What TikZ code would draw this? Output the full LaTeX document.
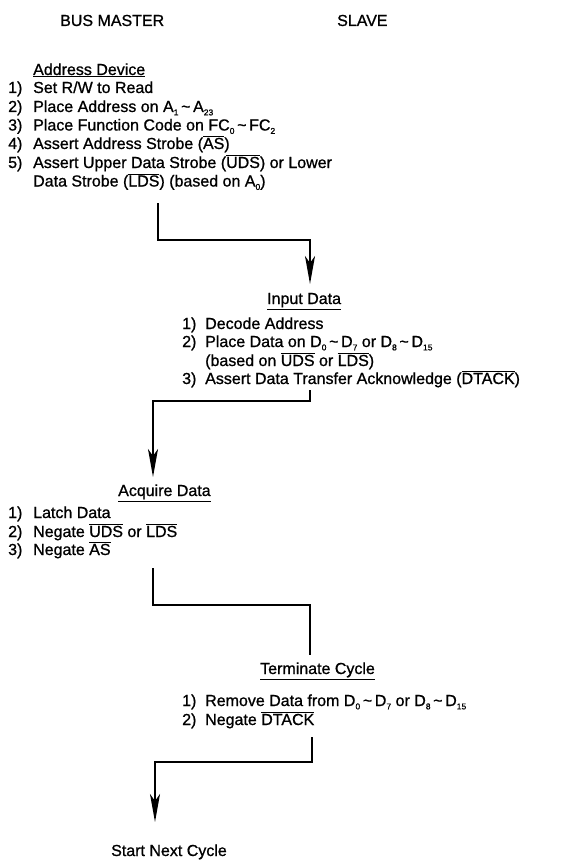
\documentclass[tikz,border=0pt]{standalone}
\usepackage{fontspec}
\setmainfont{Liberation Sans}[BoldFont=Liberation Sans, BoldFeatures={FakeBold=0.9}]
\usetikzlibrary{arrows.meta}
\newcommand{\sbs}[1]{\raisebox{-0.4ex}{\fontsize{8.5}{8.5}\selectfont #1}}
\newcommand{\ovl}[1]{$\overline{\mbox{#1}}$}
\newcommand{\tld}{\,\textasciitilde\,}
\begin{document}
\begin{tikzpicture}[x=1pt,y=-1pt,
  txt/.style={inner sep=0pt, anchor=base west, font=\fontsize{16}{16}\selectfont\bfseries},
  flow/.style={line width=2pt, line join=miter},
  head/.style={-{Stealth[length=28pt,width=10pt,inset=7pt]}}]
\fill[white] (0,0) rectangle (567,861);
\useasboundingbox (0,0) rectangle (567,861);
% headers
\node[txt] (hm) at (60,26) {BUS MASTER};
\node[txt] (hs) at (337,26) {SLAVE};
% master block 1
\node[txt] (ad) at (33,75) {\underline{Address Device}};
\node[txt] (m1n) at (8,93) {1)};
\node[txt] (m1) at (33,93) {Set R/W to Read};
\node[txt] (m2n) at (8,112) {2)};
\node[txt] (m2) at (33,112) {Place Address on A\sbs{1}\tld A\sbs{23}};
\node[txt] (m3n) at (8,130.5) {3)};
\node[txt] (m3) at (33,130.5) {Place Function Code on FC\sbs{0}\tld FC\sbs{2}};
\node[txt] (m4n) at (8,149) {4)};
\node[txt] (m4) at (33,149) {Assert Address Strobe (\ovl{AS})};
\node[txt] (m5n) at (8,168) {5)};
\node[txt] (m5) at (33,168) {Assert Upper Data Strobe (\ovl{UDS}) or Lower};
\node[txt] (m5b) at (33,186.5) {Data Strobe (\ovl{LDS}) (based on A\sbs{0})};
% slave block 1
\node[txt] (id) at (267,304) {\underline{Input Data}};
\node[txt] (s1n) at (182,329) {1)};
\node[txt] (s1) at (205,329) {Decode Address};
\node[txt] (s2n) at (182,347) {2)};
\node[txt] (s2) at (205,347) {Place Data on D\sbs{0}\tld D\sbs{7} or D\sbs{8}\tld D\sbs{15}};
\node[txt] (s2b) at (205,366) {(based on \ovl{UDS} or \ovl{LDS})};
\node[txt] (s3n) at (182,384) {3)};
\node[txt] (s3) at (205,384) {Assert Data Transfer Acknowledge (\ovl{DTACK})};
% master block 2
\node[txt] (aq) at (118,496) {\underline{Acquire Data}};
\node[txt] (a1n) at (8,518) {1)};
\node[txt] (a1) at (33,518) {Latch Data};
\node[txt] (a2n) at (8,537) {2)};
\node[txt] (a2) at (33,537) {Negate \ovl{UDS} or \ovl{LDS}};
\node[txt] (a3n) at (8,555) {3)};
\node[txt] (a3) at (33,555) {Negate \ovl{AS}};
% slave block 2
\node[txt] (tc) at (260,674) {\underline{Terminate Cycle}};
\node[txt] (t1n) at (182,706) {1)};
\node[txt] (t1) at (205,706) {Remove Data from D\sbs{0}\tld D\sbs{7} or D\sbs{8}\tld D\sbs{15}};
\node[txt] (t2n) at (182,725) {2)};
\node[txt] (t2) at (205,725) {Negate \ovl{DTACK}};
% end
\node[txt] (sn) at (111,856) {Start Next Cycle};
% connectors
\coordinate (c1a) at (158,203);
\coordinate (k1) at (310,240);
\coordinate (c1b) at (310,284);
\draw[flow,head] (c1a) |- (k1) -- (c1b);
\coordinate (c2a) at (310,390);
\coordinate (k2) at (153,401);
\coordinate (c2b) at (153,477);
\draw[flow,head] (c2a) |- (k2) -- (c2b);
\coordinate (c3a) at (153,568);
\coordinate (k3) at (310,605);
\coordinate (c3b) at (310,655);
\draw[flow] (c3a) |- (k3) -- (c3b);
\coordinate (c4a) at (312,737);
\coordinate (k4) at (155,762);
\coordinate (c4b) at (155,822);
\draw[flow,head] (c4a) |- (k4) -- (c4b);
\end{tikzpicture}
\end{document}
